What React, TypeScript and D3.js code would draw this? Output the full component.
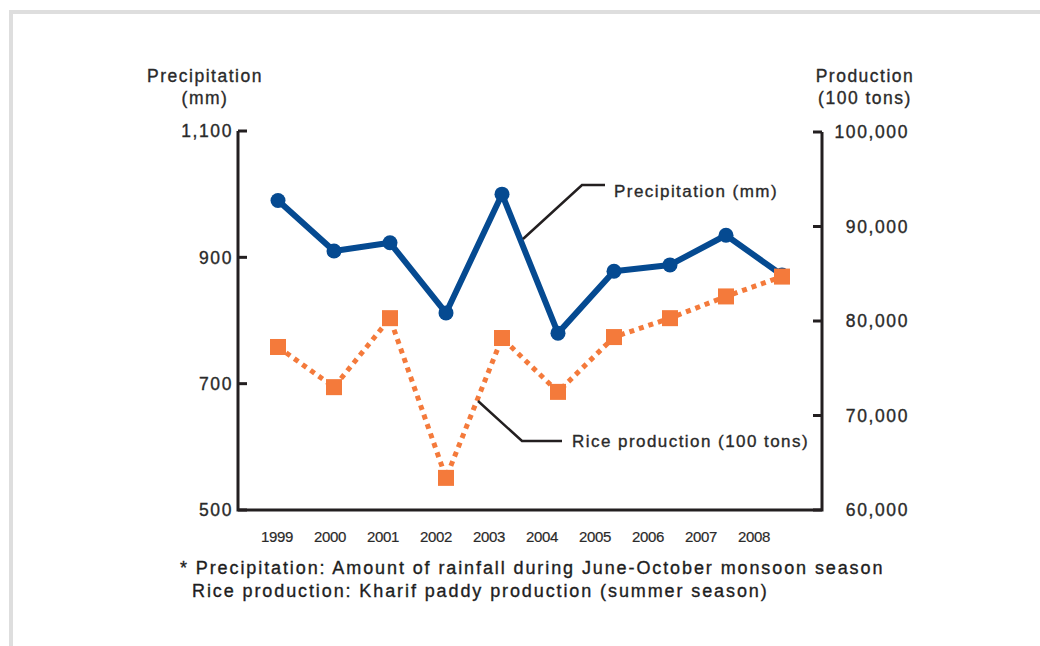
import React from 'react';
import * as d3 from 'd3';

const years = ['1999', '2000', '2001', '2002', '2003', '2004', '2005', '2006', '2007', '2008'];
const precipitation = [990, 910, 923, 812, 1000, 780, 878, 888, 935, 872];
const riceProduction = [77250, 73000, 80300, 63400, 78200, 72500, 78300, 80300, 82600, 84700];
const leftTicks = [500, 700, 900, 1100];
const rightTicks = [60000, 70000, 80000, 90000, 100000];
const footnotes = [
  '* Precipitation: Amount of rainfall during June-October monsoon season',
  'Rice production: Kharif paddy production (summer season)',
];

const BLUE = '#054a91';
const ORANGE = '#f47a3b';
const AXIS = '#231f20';
const TEXT = '#2a2a2a';
const FONT = '"Liberation Sans", Arial, Helvetica, sans-serif';

export default function App() {
  const W = 1040, H = 646;
  const x = d3.scalePoint<string>().domain(years).range([278, 782]);
  const xLabel = d3.scalePoint<string>().domain(years).range([277, 754]);
  const yL = d3.scaleLinear().domain([500, 1100]).range([510, 131]);
  const yR = d3.scaleLinear().domain([60000, 100000]).range([510, 132]);
  const fmt = d3.format(',');

  const precipLine = d3.line<number>().x((_, i) => x(years[i])!).y(d => yL(d))(precipitation)!;
  const riceLine = d3.line<number>().x((_, i) => x(years[i])!).y(d => yR(d))(riceProduction)!;

  const axL = 238, axR = 822, axB = 510;

  const txt = { fontFamily: FONT, fill: TEXT, stroke: TEXT, strokeWidth: 0.35 } as const;

  return (
    <svg width={W} height={H} style={{ position: 'absolute', left: 0, top: 0, background: '#fff' }}>
      {/* frame */}
      <rect x={11} y={12} width={1100} height={700} fill="none" stroke="#dedede" strokeWidth={4} />

      {/* axis titles */}
      <g style={txt} fontSize={17.5} letterSpacing={1.5} textAnchor="middle">
        <text x={205} y={82}>Precipitation</text>
        <text x={205} y={104}>(mm)</text>
        <text x={865} y={82}>Production</text>
        <text x={865} y={104}>(100 tons)</text>
      </g>

      {/* axes */}
      <path d={`M${axL},${yL(1100)} V${axB} H${axR} V${yR(100000)}`} fill="none" stroke={AXIS} strokeWidth={3} />
      {leftTicks.map(t => (
        <line key={'lt' + t} x1={axL} x2={axL + 9} y1={yL(t)} y2={yL(t)} stroke={AXIS} strokeWidth={3} />
      ))}
      {rightTicks.map(t => (
        <line key={'rt' + t} x1={axR - 9} x2={axR} y1={yR(t)} y2={yR(t)} stroke={AXIS} strokeWidth={3} />
      ))}
      <g style={txt} fontSize={17.5} letterSpacing={1.6}>
        {leftTicks.map(t => (
          <text key={'ll' + t} x={233} y={yL(t)} dy="0.36em" textAnchor="end">{fmt(t)}</text>
        ))}
        {rightTicks.map(t => (
          <text key={'rl' + t} x={909} y={yR(t)} dy="0.36em" textAnchor="end">{fmt(t)}</text>
        ))}
      </g>

      {/* year labels */}
      <g style={{ ...txt, strokeWidth: 0.2 }} fontSize={15} letterSpacing={-0.4} textAnchor="middle">
        {years.map(yv => (
          <text key={yv} x={xLabel(yv)} y={537} dy="0.36em">{yv}</text>
        ))}
      </g>

      {/* precipitation */}
      <path d={precipLine} fill="none" stroke={BLUE} strokeWidth={6} strokeLinejoin="round" />
      {precipitation.map((v, i) => (
        <circle key={'c' + i} cx={x(years[i])} cy={yL(v)} r={7.5} fill={BLUE} />
      ))}

      {/* rice */}
      <path d={riceLine} fill="none" stroke={ORANGE} strokeWidth={5} strokeDasharray="5 5" />
      {riceProduction.map((v, i) => (
        <rect key={'s' + i} x={x(years[i])! - 8} y={yR(v) - 8} width={16} height={16} fill={ORANGE} />
      ))}

      {/* leader lines & labels */}
      <polyline points="523,239 582,185 605,185" fill="none" stroke={AXIS} strokeWidth={2.5} />
      <polyline points="478,401 522,441 562,441" fill="none" stroke={AXIS} strokeWidth={2.5} />
      <g style={txt} fontSize={17} letterSpacing={1.45}>
        <text x={614} y={191} dy="0.36em">Precipitation (mm)</text>
        <text x={572} y={441} dy="0.36em">Rice production (100 tons)</text>
      </g>

      {/* footnotes */}
      <g style={{ ...txt, fill: '#1e1e1e', stroke: '#1e1e1e' }} fontSize={18} letterSpacing={1.9}>
        <text x={180} y={574}>{footnotes[0]}</text>
        <text x={192} y={597}>{footnotes[1]}</text>
      </g>
    </svg>
  );
}
